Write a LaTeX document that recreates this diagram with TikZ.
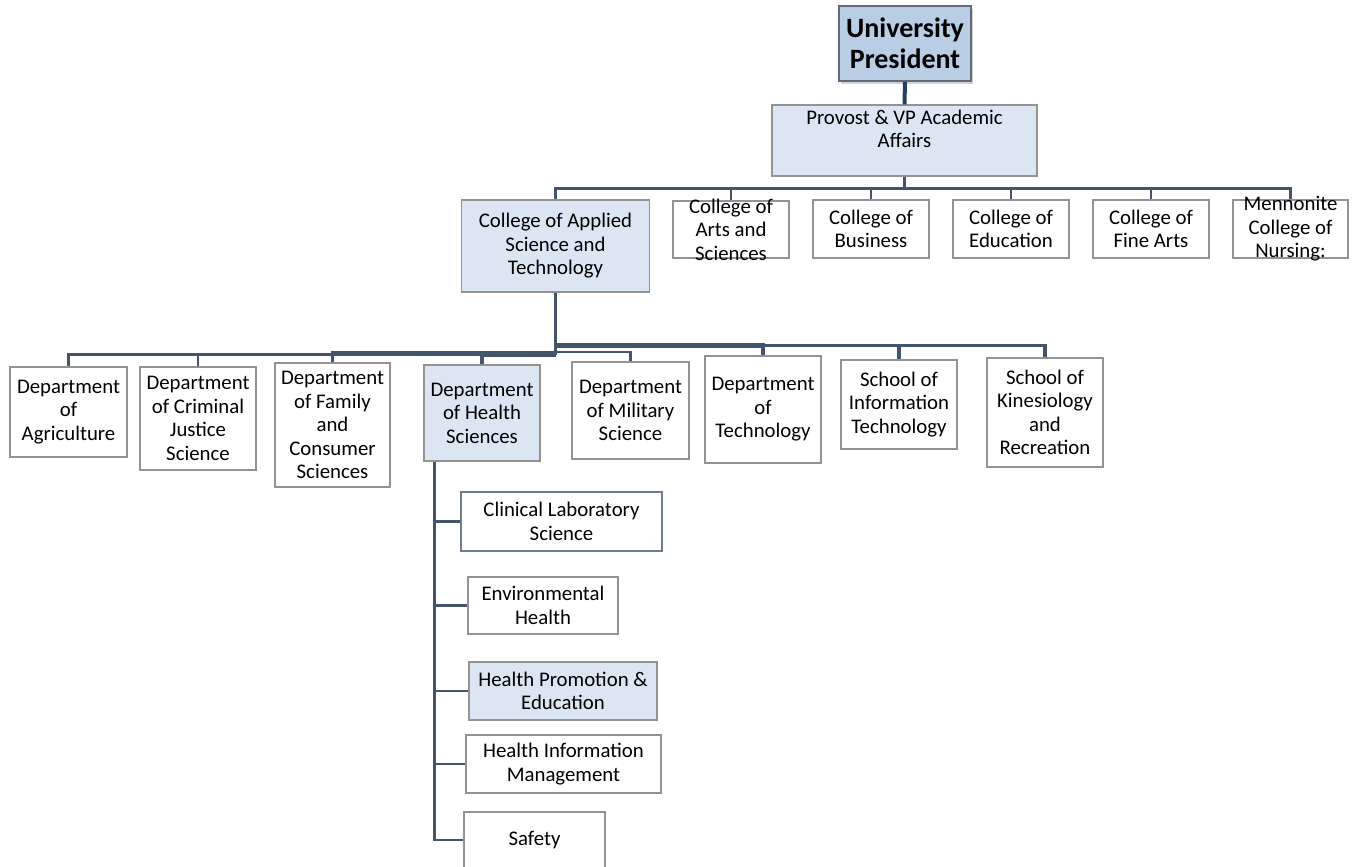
\documentclass[tikz,border=0pt]{standalone}
\usepackage{fontspec}
\setmainfont{Carlito}
\usetikzlibrary{shadows,calc}
\definecolor{linec}{HTML}{44546A}
\definecolor{topline}{HTML}{243F60}
\definecolor{bordc}{HTML}{939393}
\definecolor{presfill}{HTML}{B9CDE5}
\definecolor{presbord}{HTML}{5F6B7A}
\definecolor{lightfill}{HTML}{DCE6F2}
\definecolor{clsbord}{HTML}{6F7C8C}
\tikzset{
  txt/.style={inner sep=0pt, align=center, font=\fontsize{20.8}{23.5}\selectfont},
  box/.style={txt, draw=bordc, line width=1.3pt, fill=white},
  hbox/.style={box, fill=lightfill},
  presbox/.style={draw=presbord, line width=1.5pt, fill=presfill, inner sep=0pt, align=center,
    font=\fontsize{28}{31.5}\selectfont\bfseries,
    drop shadow={opacity=0.35, shadow xshift=2pt, shadow yshift=-3pt}},
  conn/.style={draw=linec, line width=2.8pt},
  thickconn/.style={draw=linec, line width=4.5pt},
}
\begin{document}
\begin{tikzpicture}[x=1pt,y=-1pt]
\useasboundingbox (0,0) rectangle (1358,867);
\clip (0,0) rectangle (1358,867);

% top level
\node[presbox, minimum width=132pt, minimum height=75pt] (pres) at (905,43.5) {University\\President};
\node[hbox, minimum width=265pt, minimum height=71pt] (prov) at (904.5,140.5) {Provost \& VP Academic\\Affairs\\[-7pt]\strut};

% colleges
\node[hbox, minimum width=188pt, minimum height=92pt] (cast) at (555.5,246) {College of Applied\\Science and\\Technology};
\node[box, minimum width=116pt, minimum height=57pt] (cas) at (731,229.5) {};
\node[txt] (castext) at (cas.center) {College of\\Arts and\\Sciences};
\node[box, minimum width=116pt, minimum height=58pt] (cob) at (871,229) {College of\\Business};
\node[box, minimum width=116pt, minimum height=58pt] (coe) at (1011,229) {College of\\Education};
\node[box, minimum width=116pt, minimum height=58pt] (cfa) at (1151,229) {College of\\Fine Arts};
\node[box, minimum width=115pt, minimum height=58pt] (mcn) at (1290.5,229) {};
\node[txt] (mcntext) at (mcn.center) {Mennonite\\College of\\Nursing:};

% departments
\node[box, minimum width=117pt, minimum height=90pt] (agr) at (68.5,412) {Department\\of\\Agriculture};
\node[box, minimum width=116pt, minimum height=103pt] (cjs) at (198,418.5) {Department\\of Criminal\\Justice\\Science};
\node[box, minimum width=115pt, minimum height=124pt] (fcs) at (332.5,425) {Department\\of Family\\and\\Consumer\\Sciences};
\node[hbox, minimum width=116pt, minimum height=96pt] (hs) at (482,413) {Department\\of Health\\Sciences};
\node[box, minimum width=117pt, minimum height=97pt] (mil) at (630.5,410.5) {Department\\of Military\\Science};
\node[box, minimum width=116pt, minimum height=107pt] (tech) at (763,409.5) {Department\\of\\Technology};
\node[box, minimum width=116pt, minimum height=89pt] (info) at (899,404.5) {School of\\Information\\Technology};
\node[box, minimum width=116pt, minimum height=109pt] (kin) at (1045,412.5) {School of\\Kinesiology\\and\\Recreation};

% health sciences programs
\node[box, draw=clsbord, line width=2.2pt, minimum width=201pt, minimum height=59pt] (cls) at (561.5,521.5) {Clinical Laboratory\\Science};
\node[box, minimum width=150pt, minimum height=57pt] (env) at (543,605.5) {Environmental\\Health};
\node[hbox, minimum width=188pt, minimum height=58pt] (hpe) at (563,691) {Health Promotion \&\\Education};
\node[box, minimum width=195pt, minimum height=58pt] (him) at (563.5,764) {Health Information\\Management};
\node[box, minimum width=141pt, minimum height=56pt] (saf) at (534.5,840) {Safety};

% connectors: president -> provost
\draw[draw=topline, line width=4pt] (pres.south) -- (prov.north);

% provost -> colleges
\coordinate (pbus) at ($(prov.south)+(0,12)$);
\foreach \c in {cast,cas,cob,coe,cfa,mcn}{
  \draw[conn] (prov.south) -- (pbus) -| (\c.north);
}

% college -> departments
\coordinate (dlow) at ($(cast.south)+(0,62)$);
\coordinate (dmid) at ($(cast.south)+(0,59)$);
\coordinate (dhigh) at ($(cast.south)+(0,53)$);
\draw[conn] (cast.south) -- (dlow);
\draw[conn] (dlow) -| (agr.north);
\draw[conn] (dlow) -| (cjs.north);
\draw[conn, line width=2.2pt] (dmid) -| (fcs.north);
\draw[thickconn] (dlow) -| (hs.north);
\draw[conn, line width=2.2pt] (dmid) -| (mil.north);
\draw[thickconn] (dhigh) -| (tech.north);
\draw[conn, line width=3.5pt] (dhigh) -| (info.north);
\draw[conn, line width=3.5pt] (dhigh) -| (kin.north);

% health sciences -> programs
\coordinate (hsdrop) at ($(hs.south west)+(11,0)$);
\foreach \p in {cls,env,hpe,him,saf}{
  \draw[conn] (hsdrop) |- (\p.west);
}
\end{tikzpicture}
\end{document}
